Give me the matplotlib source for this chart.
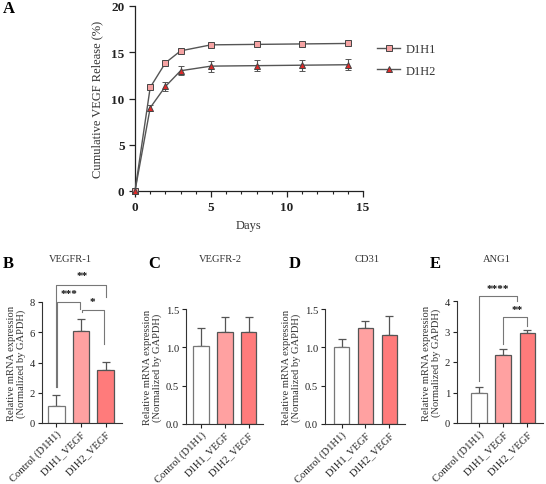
import matplotlib
matplotlib.use('Agg')
import matplotlib.pyplot as plt
from matplotlib.lines import Line2D
from matplotlib.ticker import MultipleLocator

plt.rcParams['font.family'] = ['Liberation Serif', 'DejaVu Serif']

W, H = 546, 485

# release data (panel A)
days = [0, 1, 2, 3, 5, 8, 11, 14]
d1h1 = [0, 11.2, 13.85, 15.15, 15.8, 15.85, 15.9, 15.95]
d1h1_err = [0, 0.15, 0.15, 0.15, 0.15, 0.15, 0.15, 0.15]
d1h2 = [0, 9.0, 11.3, 13.0, 13.5, 13.55, 13.6, 13.65]
d1h2_err = [0, 0.3, 0.45, 0.5, 0.6, 0.6, 0.6, 0.6]

# qPCR data (panels B-E)
groups = ['Control (D1H1)', 'D1H1_VEGF', 'D1H2_VEGF']
vegfr1 = [1.15, 6.05, 3.5]
vegfr1_err = [0.7, 0.8, 0.55]
vegfr2 = [1.02, 1.2, 1.2]
vegfr2_err = [0.23, 0.2, 0.2]
cd31 = [1.0, 1.25, 1.16]
cd31_err = [0.11, 0.09, 0.25]
ang1 = [1.0, 2.23, 2.95]
ang1_err = [0.17, 0.18, 0.1]

bar_colors = ['white', '#FFA1A1', '#FF7B7B']
grey = '#555555'
fs = 7.6


def rect(l, t, r, b):
    return [l / W, 1 - b / H, (r - l) / W, (b - t) / H]


fig = plt.figure(figsize=(W / 100, H / 100), dpi=100)

# ---- panel A
ax = fig.add_axes(rect(135, 7, 363, 192))
ax.errorbar(days, d1h1, yerr=d1h1_err, color=grey, lw=1, marker='s', ms=5,
            mfc='#F5A3A3', mec='#444444', mew=0.7, capsize=2.5, elinewidth=0.8,
            clip_on=False, zorder=3)
ax.errorbar(days, d1h2, yerr=d1h2_err, color=grey, lw=1, marker='^', ms=5,
            mfc='#E02828', mec='#444444', mew=0.7, capsize=2.5, elinewidth=0.8,
            clip_on=False, zorder=3)
ax.set_xlim(0, 15)
ax.set_ylim(0, 20)
ax.xaxis.set_major_locator(MultipleLocator(5))
ax.xaxis.set_minor_locator(MultipleLocator(1))
ax.yaxis.set_major_locator(MultipleLocator(5))
for s in ['top', 'right']:
    ax.spines[s].set_visible(False)
for s in ['left', 'bottom']:
    ax.spines[s].set_color('#222222')
    ax.spines[s].set_linewidth(0.9)
ax.tick_params(which='major', length=4, width=0.9, labelsize=9.5, colors='#222222')
ax.tick_params(which='minor', length=2.5, width=0.8, colors='#222222')
for lab in ax.get_xticklabels() + ax.get_yticklabels():
    lab.set_fontweight('bold')
ax.set_xlabel('Days', fontsize=9, color='#333333', labelpad=4)
ax.set_ylabel('Cumulative VEGF Release (%)', fontsize=9, color='#333333', labelpad=6)
handles = [
    Line2D([], [], color=grey, lw=1, marker='s', ms=5, mfc='#F5A3A3', mec='#444444', mew=0.7),
    Line2D([], [], color=grey, lw=1, marker='^', ms=5, mfc='#E02828', mec='#444444', mew=0.7),
]
leg = fig.legend(handles, ['D1H1', 'D1H2'], loc='upper left',
                 bbox_to_anchor=(366 / W, 1 - 33 / H), frameon=False,
                 fontsize=9, handlelength=1.8, handletextpad=0.5, labelspacing=0.75)
for t in leg.get_texts():
    t.set_color('#333333')
fig.text(3 / W, 1 - 9 / H, 'A', fontsize=12, fontweight='bold', va='center')


def bar_panel(box, xlim, ylim, step, vals, errs, title, title_x, letter, letter_x, fmt):
    a = fig.add_axes(rect(*box))
    x = range(len(vals))
    a.bar(x, vals, width=0.66, color=bar_colors, edgecolor=['#777777', '#555555', '#555555'],
          linewidth=0.9, zorder=2)
    a.errorbar(x, vals, yerr=[[0] * len(errs), errs], fmt='none', ecolor='#555555',
               elinewidth=0.9, capsize=3, capthick=0.9, zorder=1)
    a.set_xlim(*xlim)
    a.set_ylim(*ylim)
    a.yaxis.set_major_locator(MultipleLocator(step))
    a.yaxis.set_major_formatter(fmt)
    a.set_xticks(list(x))
    a.set_xticklabels(groups, rotation=45, ha='right', rotation_mode='anchor', fontsize=6.8)
    for s in ['top', 'right']:
        a.spines[s].set_visible(False)
    for s in ['left', 'bottom']:
        a.spines[s].set_color('#333333')
        a.spines[s].set_linewidth(0.8)
    a.tick_params(length=3, width=0.8, labelsize=fs, colors='#222222', pad=2)
    a.tick_params(axis='x', pad=1)
    a.set_ylabel('Relative mRNA expression\n(Normalized by GAPDH)', fontsize=fs,
                 color='#333333', linespacing=1.05, labelpad=3)
    fig.text(title_x / W, 1 - 260 / H, title, ha='center', va='center',
             fontsize=fs, color='#333333')
    fig.text(letter_x / W, 1 - 264 / H, letter, fontsize=12, fontweight='bold', va='center')
    return a


def bracket(a, x0, x1, y, b0, b1, stars, sx, sy):
    a.plot([x0, x0, x1, x1], [b0, y, y, b1], color='#777777', lw=0.8, clip_on=False)
    a.text(sx, sy, stars, ha='center', va='center', fontsize=8, fontweight='bold',
           color='#111111', clip_on=False)


axB = bar_panel((42, 303, 122, 424), (-0.59, 2.67), (0, 8), 2, vegfr1, vegfr1_err,
                'VEGFR-1', 70, 'B', 3, '{x:.0f}')
bracket(axB, 0, 2, 9.15, 2.4, 8.35, '**', 1.03, 9.75)
bracket(axB, 0.02, 0.97, 8.0, 2.4, 7.55, '***', 0.51, 8.55)
bracket(axB, 1.05, 1.95, 7.5, 7.35, 5.2, '*', 1.48, 8.05)

axC = bar_panel((186, 310, 263, 425), (-0.63, 2.61), (0, 1.5), 0.5, vegfr2, vegfr2_err,
                'VEGFR-2', 220, 'C', 148, '{x:.1f}')
axD = bar_panel((325, 310, 405, 425), (-0.69, 2.65), (0, 1.5), 0.5, cd31, cd31_err,
                'CD31', 367, 'D', 289, '{x:.1f}')
axE = bar_panel((457, 302, 543, 424), (-0.91, 2.64), (0, 4), 1, ang1, ang1_err,
                'ANG1', 497, 'E', 430, '{x:.0f}')
bracket(axE, 0, 1.55, 4.17, 1.38, 4.0, '****', 0.77, 4.42)
bracket(axE, 1.0, 2.0, 3.47, 2.6, 3.18, '**', 1.57, 3.72)

fig.savefig('out.png', dpi=100)
